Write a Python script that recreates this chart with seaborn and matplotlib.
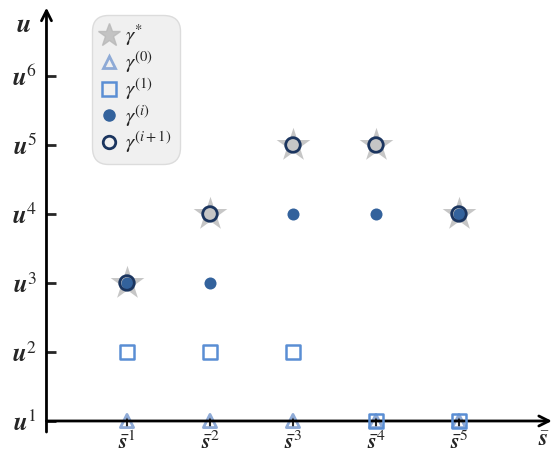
import matplotlib
matplotlib.use("Agg")
import matplotlib.pyplot as plt
import seaborn as sns
from matplotlib.lines import Line2D

sns.set_style("white")
plt.rcParams["mathtext.fontset"] = "stix"

# ---- data ----
s_idx = [1, 2, 3, 4, 5]
x_labels = [r"$\bar{\boldsymbol{s}}^{1}$", r"$\bar{\boldsymbol{s}}^{2}$", r"$\bar{\boldsymbol{s}}^{3}$",
            r"$\bar{\boldsymbol{s}}^{4}$", r"$\bar{\boldsymbol{s}}^{5}$"]
u_idx = [1, 2, 3, 4, 5, 6]
y_labels = [r"$\boldsymbol{u}^{%d}$" % k for k in u_idx]

gamma_star = [3, 4, 5, 5, 4]
gamma_0 = [1, 1, 1, 1, 1]
gamma_1 = [2, 2, 2, 1, 1]
gamma_i = [3, 3, 4, 4, 4]
gamma_i1 = [3, 4, 5, 5, 4]

c_star = "#b8b8b8"
c_tri = "#8eaad6"
c_sq = "#5a8ed4"
c_dot = "#33629c"
c_ring = "#1b355f"

fig = plt.figure(figsize=(5.54, 4.57), dpi=100)
ax = fig.add_axes([0, 0, 1, 1])
ax.set_xlim(-0.530, 6.145)
ax.set_ylim(0.478, 7.101)

sns.scatterplot(x=s_idx, y=gamma_star, marker="*", s=650, color=c_star, alpha=0.8,
                linewidth=0, ax=ax, zorder=2)
sns.scatterplot(x=s_idx, y=gamma_0, marker="^", s=90, facecolor="none", edgecolor=c_tri,
                linewidth=2, ax=ax, zorder=3)
sns.scatterplot(x=s_idx, y=gamma_1, marker="s", s=110, facecolor="none", edgecolor=c_sq,
                linewidth=1.8, ax=ax, zorder=4)
sns.scatterplot(x=s_idx, y=gamma_i, marker="o", s=75, color=c_dot, linewidth=0, ax=ax, zorder=5)
sns.scatterplot(x=s_idx, y=gamma_i1, marker="o", s=110, facecolor="none", edgecolor=c_ring,
                linewidth=2, ax=ax, zorder=6)

# axes
for sp in ax.spines.values():
    sp.set_visible(False)
x_axis_pos = 0.03
ax.spines["left"].set_position(("data", x_axis_pos))
ax.spines["bottom"].set_position(("data", 1))
ax.annotate("", xy=(6.12, 1), xytext=(x_axis_pos, 1),
            arrowprops=dict(arrowstyle="->", lw=2, color="black", mutation_scale=18, shrinkA=0, shrinkB=0))
ax.annotate("", xy=(x_axis_pos, 6.99), xytext=(x_axis_pos, 0.84),
            arrowprops=dict(arrowstyle="->", lw=2, color="black", mutation_scale=18, shrinkA=0, shrinkB=0))

ax.set_xticks(s_idx)
ax.set_xticklabels(x_labels, fontsize=16)
ax.set_yticks(u_idx)
ax.set_yticklabels(y_labels, fontsize=18)
ax.tick_params(axis="y", direction="in", length=7, width=2, pad=7, left=True)
ax.tick_params(axis="x", direction="inout", length=8, width=1.5, pad=3, bottom=True)
for t in ax.xaxis.get_major_ticks():
    t.tick1line.set_zorder(10)

ax.text(-0.16, 6.74, r"$\boldsymbol{u}$", fontsize=19, ha="right", va="center")
ax.text(6.02, 0.74, r"$\bar{\boldsymbol{s}}$", fontsize=17, ha="center", va="center")

handles = [
    Line2D([], [], marker="*", ls="none", ms=17, color=c_star, mec=c_star, alpha=0.8),
    Line2D([], [], marker="^", ls="none", ms=9, mfc="none", mec=c_tri, mew=2),
    Line2D([], [], marker="s", ls="none", ms=10, mfc="none", mec=c_sq, mew=1.8),
    Line2D([], [], marker="o", ls="none", ms=8, color=c_dot),
    Line2D([], [], marker="o", ls="none", ms=9, mfc="none", mec=c_ring, mew=2),
]
labels = [r"$\gamma^{*}$", r"$\gamma^{(0)}$", r"$\gamma^{(1)}$", r"$\gamma^{(i)}$", r"$\gamma^{(i+1)}$"]
leg = ax.legend(handles, labels, loc="upper left", bbox_to_anchor=(98 / 554, 1 - 21 / 457),
                fontsize=15, frameon=True, fancybox=True, facecolor="#f0f0f0", edgecolor="#dcdcdc",
                framealpha=1, handlelength=0.9, handletextpad=0.3, labelspacing=0.05,
                borderpad=0.1, borderaxespad=0)
leg.get_frame().set_boxstyle("round,pad=0.3,rounding_size=0.8")

fig.savefig("out.png", dpi=100)
